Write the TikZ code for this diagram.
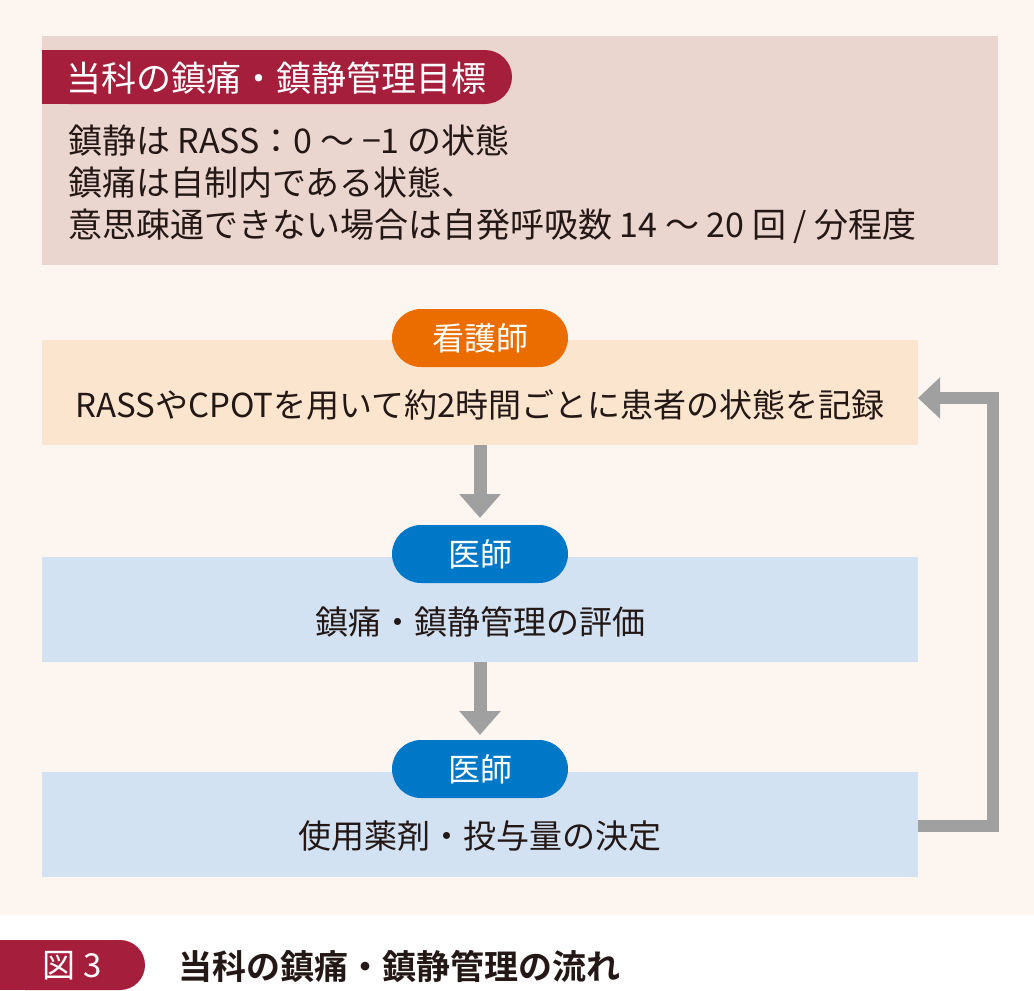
\documentclass[tikz,border=0pt]{standalone}
\usepackage{fontspec}
\setmainfont{Noto Sans CJK JP}
\newfontfamily\jpb{Noto Sans CJK JP}[BoldFont={* Bold}]
\usetikzlibrary{arrows.meta}
\definecolor{bgp}{HTML}{FDF5F0}
\definecolor{topbox}{HTML}{EBD5CF}
\definecolor{dred}{HTML}{A51F3C}
\definecolor{orng}{HTML}{EB6D00}
\definecolor{nbox}{HTML}{FBE5CF}
\definecolor{blu}{HTML}{0078C8}
\definecolor{dbox}{HTML}{D3E2F3}
\definecolor{gry}{HTML}{A0A0A0}
\definecolor{txt}{HTML}{231815}
\tikzset{
  tab/.style={rounded corners=29pt,text=white,font=\fontsize{32}{36}\selectfont,minimum width=176pt,minimum height=58pt,inner sep=0},
  box/.style={minimum width=876pt,minimum height=105pt,inner sep=0,fill=none},
  boxtxt/.style={text=txt,font=\fontsize{33}{36}\selectfont,inner sep=0},
  flow/.style={draw=gry,line width=13pt,-{Triangle[length=24pt,width=40pt]}}
}
\begin{document}
\begin{tikzpicture}[x=1pt,y=-1pt]
\useasboundingbox (0,0) rectangle (1034,991);
\fill[bgp] (0,0) rectangle (1034,915);
\fill[white] (0,915) rectangle (1034,991);
\fill[topbox] (42,36) rectangle (998,265);
\fill[dred,rounded corners=27pt] (42,50) -- (512,50) -- (512,104) -- (42,104) [sharp corners] -- cycle;
\fill[dred] (42,50) rectangle (100,104);
\node[anchor=west,text=white,font=\fontsize{35}{36}\selectfont,inner sep=0] (title) at (66,78) {当科の鎮痛・鎮静管理目標};
\node[anchor=west,text=txt,font=\fontsize{34}{42}\selectfont,align=left,inner sep=0] (goal) at (68,184) {鎮静は RASS：0 〜 −1 の状態\\鎮痛は自制内である状態、\\意思疎通できない場合は自発呼吸数 14 〜 20 回 / 分程度};
\node[box,fill=nbox] (b1) at (480,392.5) {};
\node[boxtxt] (l1) at (480,405) {RASSやCPOTを用いて約2時間ごとに患者の状態を記録};
\node[tab,fill=orng] (t1) at (480,338) {看護師};
\node[box,fill=dbox] (b2) at (480,609.5) {};
\node[boxtxt] (l2) at (480,622) {鎮痛・鎮静管理の評価};
\node[tab,fill=blu] (t2) at (480,554) {医師};
\node[box,fill=dbox] (b3) at (480,824.5) {};
\node[boxtxt] (l3) at (480,836) {使用薬剤・投与量の決定};
\node[tab,fill=blu] (t3) at (480,769) {医師};
\draw[flow] (b1.south) -- (480,518);
\draw[flow] (b2.south) -- (480,735);
\coordinate (c1) at (993,826);
\coordinate (c2) at (993,398);
\draw[draw=gry,line width=12pt,-{Triangle[length=22pt,width=40pt]}] (b3.east |- c1) -- (c1) -- (c2) -- (918,398);
\fill[dred,rounded corners=25pt] (0,940) -- (145,940) -- (145,990) -- (0,990) [sharp corners] -- cycle;
\fill[dred] (0,940) rectangle (40,990);
\node[text=white,font=\fontsize{33}{36}\selectfont] (fig) at (72,966) {図 3};
\node[anchor=west,text=txt,font=\jpb\bfseries\fontsize{34}{36}\selectfont,inner sep=0] (cap) at (178,966) {当科の鎮痛・鎮静管理の流れ};
\end{tikzpicture}
\end{document}
